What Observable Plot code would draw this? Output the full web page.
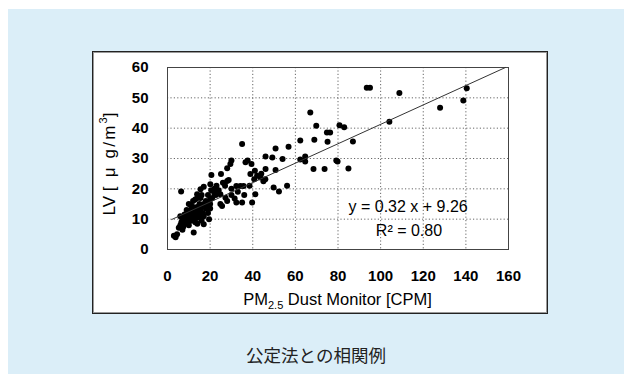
<!DOCTYPE html>
<html><head><meta charset="utf-8">
<script src="https://cdn.jsdelivr.net/npm/d3@7"></script>
<script src="https://cdn.jsdelivr.net/npm/@observablehq/plot@0.6"></script>
<style>
body{margin:0;width:624px;height:374px;overflow:hidden;background:#fff;font-family:"Liberation Sans",Arial,sans-serif;}
#bg{position:absolute;left:8px;top:9px;width:616px;height:365px;background:#dbeef8;}
#box{position:absolute;left:92px;top:51px;width:454px;height:261px;background:#fff;border:1px solid #222;box-shadow:inset 0 0 0 1px #999;}
#chart{position:absolute;left:92px;top:51px;}
#cap{position:absolute;left:8px;width:616px;top:343px;text-align:center;font-family:"Noto Sans CJK JP";font-size:17.5px;color:#222;line-height:24px;}
</style></head>
<body>
<div id="bg"></div>
<div id="box"></div>
<div id="chart"></div>
<div id="cap">公定法との相関例</div>
<script>
// PM2.5 dust monitor readings [CPM]
const pmX = [3,3.8,4.5,5.3,6,6.5,7.4,7,8,8.5,9,9.5,10,10,10.5,11,11,11.5,12,12,12.3,12.5,13,13,13.5,13.9,14,14,14.5,15,15,15.5,16,16,16.5,17,17,17,18,18.5,19,19.5,20,20,9,8,7,6,10,12,13,11,14,15.5,16,13.9,15.5,17,6.4,18,20,21,19,22,20.5,20.1,20.6,22.7,24.8,25.6,24.8,27.2,28,31.5,32.3,35,39.7,41.2,22,23,24,25.1,26,28,28.7,27,30,32.3,34.2,35.7,38.5,33,36,30,28,29.5,30,35,36.6,37.6,39.4,38.9,40.7,42,43.6,41,44,45,45.9,46,46,49.2,50.7,50.7,54,49.8,52.3,56.1,56.8,62.3,62.3,64.6,64.6,68.5,67,69.8,68.9,73.7,74.8,75.1,76.3,79.2,79.8,80.7,82.9,84.9,87,93.5,95,104.1,108.8,127.9,138.8,140.4];
// LV reference values [µg/m3]
const lvY = [4.5,4,5,7.2,8,9,7.5,6.5,8.5,10,9,11,8,12,10.5,13,9.5,11.5,14,10,5.6,12.5,9,11,13.5,14,8.5,10.5,12,15,11,13,9.5,14.5,12,8.3,15,11,13.5,14.5,12,10,13.5,15,13,11.5,10,11,15,16,16.5,14.5,17,17,18,18.2,19.9,20.7,19.1,16,16.5,17,18,18.5,19.5,21.5,24.6,18,18.2,14.3,15,17.1,16,16.8,15.5,15.5,15.5,18.2,20,21,19.5,24.9,22,22.6,22.9,21,20,20.9,20.9,20.9,21,19,18,18,26.8,28.2,29.3,34.8,28.8,29.3,28.2,24.9,23.2,24.3,23.7,26,25,22.5,23.2,26.5,30.7,30.3,33.3,26.2,29.8,20.4,19.1,21,33.9,35.9,29.7,30.7,29,26.5,45.2,40.8,36.2,26.5,38.6,35.5,38.6,29.3,29,41,40.3,26.7,35.6,53.3,53.3,42.1,51.6,46.7,49.1,53.2];
const xTicks = [0,20,40,60,80,100,120,140,160];
const yTicks = [0,10,20,30,40,50,60];
const trendSlope = 0.32, trendIntercept = 9.26;
const trendXEnds = [2, 158.6];
const eqLabels = ["y = 0.32 x + 9.26", "R² = 0.80"];
const eqX = [112.9, 113.3];
const eqY = [14.0, 6.1];

const points = pmX.map((x,i)=>({x, y: lvY[i]}));
const trend = trendXEnds.map(x=>({x, y: trendSlope*x + trendIntercept}));
const eq = eqLabels.map((t,i)=>({t, x: eqX[i], y: eqY[i]}));

const W = 456, H = 263, ML = 75, MR = 40, MT = 16, MB = 65;
const plot = Plot.plot({
  width: W, height: H, marginLeft: ML, marginRight: MR, marginTop: MT, marginBottom: MB,
  style: {background: "transparent", fontFamily: "Liberation Sans, Arial, sans-serif", fontSize: "15px", color: "#000", overflow: "visible"},
  x: {domain: [0,160]},
  y: {domain: [0,60]},
  marks: [
    Plot.gridX(xTicks.slice(1,-1), {stroke: "#666", strokeOpacity: 1, strokeDasharray: "1.2,2.2"}),
    Plot.gridY(yTicks.slice(1,-1), {stroke: "#666", strokeOpacity: 1, strokeDasharray: "1.2,2.2"}),
    Plot.frame({stroke: "#444"}),
    Plot.dot(points, {x: "x", y: "y", r: 3, fill: "#000", stroke: "none"}),
    Plot.line(trend, {x: "x", y: "y", stroke: "#333", strokeWidth: 1}),
    Plot.text(eq, {x: "x", y: "y", text: "t", fontSize: 16, fill: "#000", fontFamily: "Liberation Sans, Arial, sans-serif"}),
    Plot.axisX(xTicks, {tickSize: 0, tickPadding: 21, label: null, fontWeight: "bold", fontSize: 15}),
    Plot.axisY(yTicks, {tickSize: 0, tickPadding: 19, label: null, fontWeight: "bold", fontSize: 15})
  ]
});
document.getElementById("chart").appendChild(plot);

const svg = d3.select(plot);
svg.selectAll('g[aria-label="x-axis tick label"], g[aria-label="y-axis tick label"]')
  .attr("font-size", 15).style("font-size", "15px");
// X axis title
const xt = svg.append("text")
  .attr("x", ML + (W-ML-MR)/2).attr("y", 254)
  .attr("text-anchor", "middle").attr("font-size", 16.5).attr("fill", "#000")
  .attr("font-family", "Liberation Sans, Arial, sans-serif");
xt.append("tspan").text("PM");
xt.append("tspan").attr("font-size", 11).attr("dy", 4).text("2.5");
xt.append("tspan").attr("dy", -4).text(" Dust Monitor [CPM]");
// Y axis title
const yt = svg.append("text")
  .attr("transform", "translate(23,113) rotate(-90)")
  .attr("text-anchor", "middle").attr("font-size", 17).attr("fill", "#000")
  .attr("font-family", "Liberation Sans, Arial, sans-serif");
yt.append("tspan").text("LV ");
yt.append("tspan").attr("letter-spacing", "2.2px").text("[ μ g/m");
yt.append("tspan").attr("font-size", 11).attr("dy", -8).text("3");
yt.append("tspan").attr("dy", 8).text("]");
</script>
</body></html>
